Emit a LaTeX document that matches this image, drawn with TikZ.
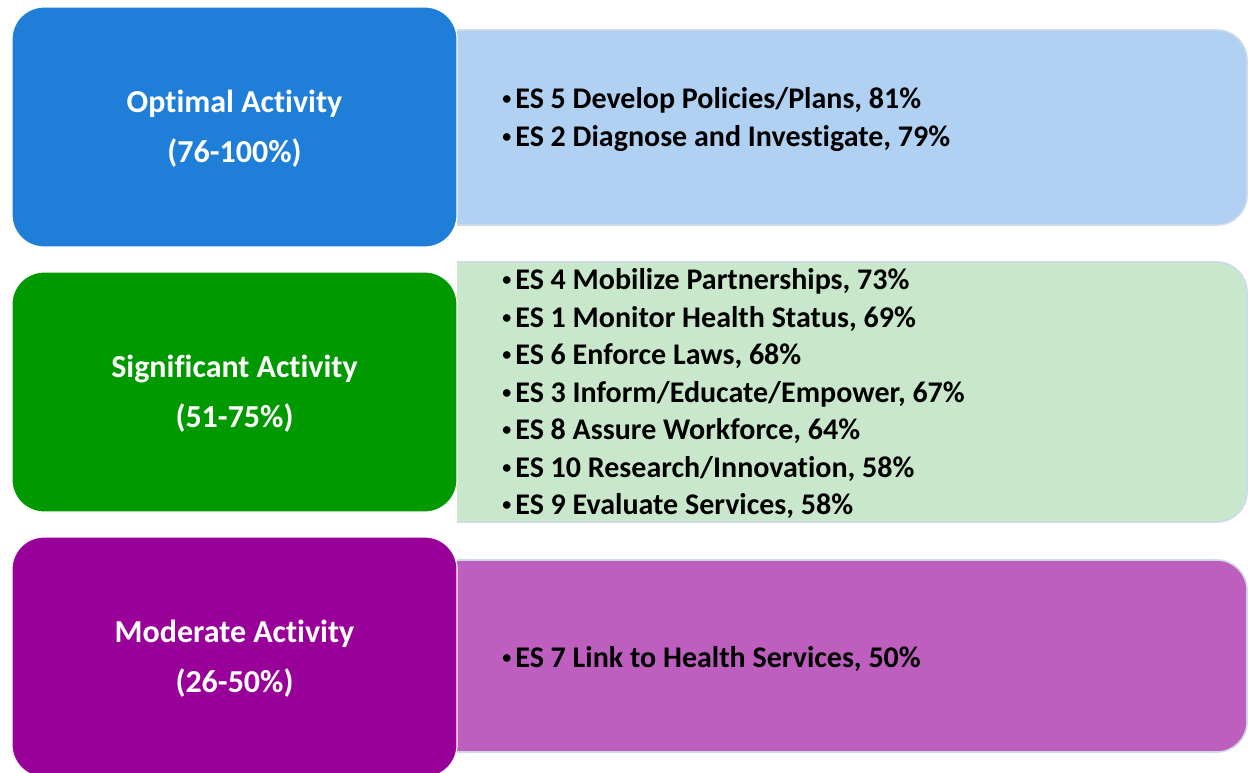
\documentclass[tikz,border=0pt]{standalone}
\usepackage{fontspec}
\setmainfont{Carlito}[Ligatures=NoCommon]
\usepackage{tikz}
\usetikzlibrary{positioning}

\definecolor{optDark}{RGB}{31,127,216}
\definecolor{optLight}{RGB}{177,209,243}
\definecolor{sigDark}{RGB}{0,153,0}
\definecolor{sigLight}{RGB}{201,232,203}
\definecolor{modDark}{RGB}{153,0,153}
\definecolor{modLight}{RGB}{190,94,190}
\definecolor{panelEdge}{RGB}{205,218,232}

% small bullet as in the slide
\newcommand{\itemDot}{\makebox[6.5pt][l]{\raisebox{2pt}{\fontsize{9}{9}\selectfont •}}}

\begin{document}
\begin{tikzpicture}[x=0.5pt, y=-0.5pt,
    levelBox/.style={rounded corners=16pt, draw=white, line width=0.6pt,
        minimum width=222.5pt, minimum height=120pt},
    levelText/.style={text=white, align=center, yshift=-1pt,
        font=\bfseries\fontsize{16}{25}\selectfont},
    panelBox/.style={rounded corners=15pt, draw=panelEdge, line width=0.8pt, minimum width=415pt},
    itemList/.style={anchor=west, align=left, inner sep=0pt,
        font=\bfseries\fontsize{15}{18.75}\selectfont}]

\useasboundingbox (0,0) rectangle (1248,772);

% Light panels, square on the left (cut at the level boxes)
\begin{scope}
  \clip (457,0) rectangle (1248,772);
  \node[panelBox, fill=optLight, minimum height=97.5pt] (optPanel) at (832,127.5) {};
  \node[panelBox, fill=sigLight, minimum height=130pt] (sigPanel) at (832,392) {};
  \node[panelBox, fill=modLight, minimum height=96pt] (modPanel) at (832,656) {};
\end{scope}

% Level boxes
\node[levelBox, fill=optDark, label={[levelText]center:Optimal Activity\\(76-100\%)}] (optLevel) at (234.5,127) {};
\node[levelBox, fill=sigDark, label={[levelText]center:Significant Activity\\(51-75\%)}] (sigLevel) at (234.5,392) {};
\node[levelBox, fill=modDark, label={[levelText]center:Moderate Activity\\(26-50\%)}] (modLevel) at (234.5,657) {};

% Essential services per level
\node[itemList] (optList) at (502,119.5) {\itemDot ES 5 Develop Policies/Plans, 81\%\\
    \itemDot ES 2 Diagnose and Investigate, 79\%};
\node[itemList] (sigList) at (502,393.5) {\itemDot ES 4 Mobilize Partnerships, 73\%\\
    \itemDot ES 1 Monitor Health Status, 69\%\\
    \itemDot ES 6 Enforce Laws, 68\%\\
    \itemDot ES 3 Inform/Educate/Empower, 67\%\\
    \itemDot ES 8 Assure Workforce, 64\%\\
    \itemDot ES 10 Research/Innovation, 58\%\\
    \itemDot ES 9 Evaluate Services, 58\%};
\node[itemList] (modList) at (502,659) {\itemDot ES 7 Link to Health Services, 50\%};

\end{tikzpicture}
\end{document}
